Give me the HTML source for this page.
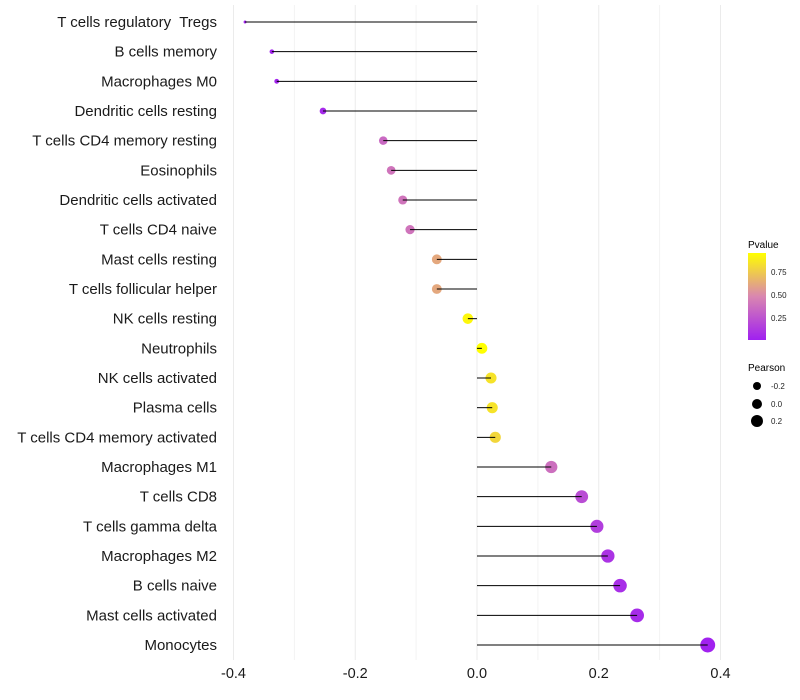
<!DOCTYPE html>
<html><head><meta charset="utf-8"><style>
body{margin:0;background:#fff;}
svg{display:block;font-family:"Liberation Sans",Arial,sans-serif;}
text{white-space:pre;}
</style></head><body>
<svg id="chart" width="800" height="700">
<defs><linearGradient id="pg" x1="0" y1="1" x2="0" y2="0">
<stop offset="0" stop-color="#A020F0"/><stop offset="0.5" stop-color="#D986B0"/><stop offset="1" stop-color="#FFFF00"/>
</linearGradient></defs>
<g id="grid"></g><g id="marks"></g><g id="labels"></g><g id="xaxis"></g>
<g>
<text x="748" y="248" font-size="10" fill="#000">Pvalue</text>
<rect x="748" y="253" width="18" height="87" fill="url(#pg)"/>
<text x="771" y="275" font-size="8" fill="#222">0.75</text>
<text x="771" y="298" font-size="8" fill="#222">0.50</text>
<text x="771" y="321" font-size="8" fill="#222">0.25</text>
</g>
<g>
<text x="748" y="371" font-size="10" fill="#000">Pearson</text>
<circle cx="757" cy="386" r="4" fill="#000"/><text x="771" y="389" font-size="8" fill="#222">-0.2</text>
<circle cx="757" cy="404" r="5" fill="#000"/><text x="771" y="407" font-size="8" fill="#222">0.0</text>
<circle cx="757" cy="421" r="6" fill="#000"/><text x="771" y="424" font-size="8" fill="#222">0.2</text>
</g>
</svg>
<script>
const categories=["T cells regulatory  Tregs","B cells memory","Macrophages M0","Dendritic cells resting","T cells CD4 memory resting","Eosinophils","Dendritic cells activated","T cells CD4 naive","Mast cells resting","T cells follicular helper","NK cells resting","Neutrophils","NK cells activated","Plasma cells","T cells CD4 memory activated","Macrophages M1","T cells CD8","T cells gamma delta","Macrophages M2","B cells naive","Mast cells activated","Monocytes"];
const pearson=[-0.381,-0.337,-0.329,-0.253,-0.154,-0.141,-0.122,-0.110,-0.066,-0.066,-0.015,0.008,0.023,0.025,0.030,0.122,0.172,0.197,0.215,0.235,0.263,0.379];
const pvalues=[0.02,0.03,0.03,0.05,0.35,0.4,0.4,0.4,0.62,0.62,0.93,0.96,0.85,0.85,0.8,0.38,0.22,0.15,0.1,0.08,0.06,0.02];
const xTicks=[-0.4,-0.2,0,0.2,0.4];
const xTickLabels=["-0.4","-0.2","0.0","0.2","0.4"];
const NS="http://www.w3.org/2000/svg";
const X=v=>477+v*608.75;
const Y=i=>22+i*29.667;
function mk(t,a,p){const e=document.createElementNS(NS,t);for(const k in a)e.setAttribute(k,a[k]);p.appendChild(e);return e;}
function lerp(a,b,t){return a.map((v,i)=>Math.round(v+(b[i]-v)*t));}
function color(p){let t=(p-0.01)/0.95;t=Math.max(0,Math.min(1,t));const c0=[160,32,240],c1=[217,134,176],c2=[255,255,0];const c=t<0.5?lerp(c0,c1,t*2):lerp(c1,c2,(t-0.5)*2);return `rgb(${c})`;}
const grid=document.getElementById('grid'),marks=document.getElementById('marks'),labels=document.getElementById('labels'),xa=document.getElementById('xaxis');
for(let v=-0.4;v<=0.41;v+=0.1){const g=mk('line',{x1:X(v),x2:X(v),y1:5,y2:660,stroke:Math.abs(Math.round(v*10))%2==0?'#ebebeb':'#f3f3f3','stroke-width':1},grid);

}
categories.forEach((c,i)=>{
const y=Y(i),v=pearson[i];
const r=Math.sqrt(Math.max(2.2,29+70.5*v));
const dot=mk('circle',{cx:X(v),cy:y,r:r,fill:color(pvalues[i])},marks);


const ln=mk('line',{x1:X(0),x2:X(v),y1:y,y2:y,stroke:'#000','stroke-width':1},marks);


const t=mk('text',{x:217,y:y+5,'font-size':15,'text-anchor':'end',fill:'#1a1a1a'},labels);t.textContent=c;


});
xTicks.forEach((v,i)=>{const t=mk('text',{x:X(v),y:678,'font-size':14.5,'text-anchor':'middle',fill:'#1a1a1a'},xa);t.textContent=xTickLabels[i];

});
</script>
</body></html>
